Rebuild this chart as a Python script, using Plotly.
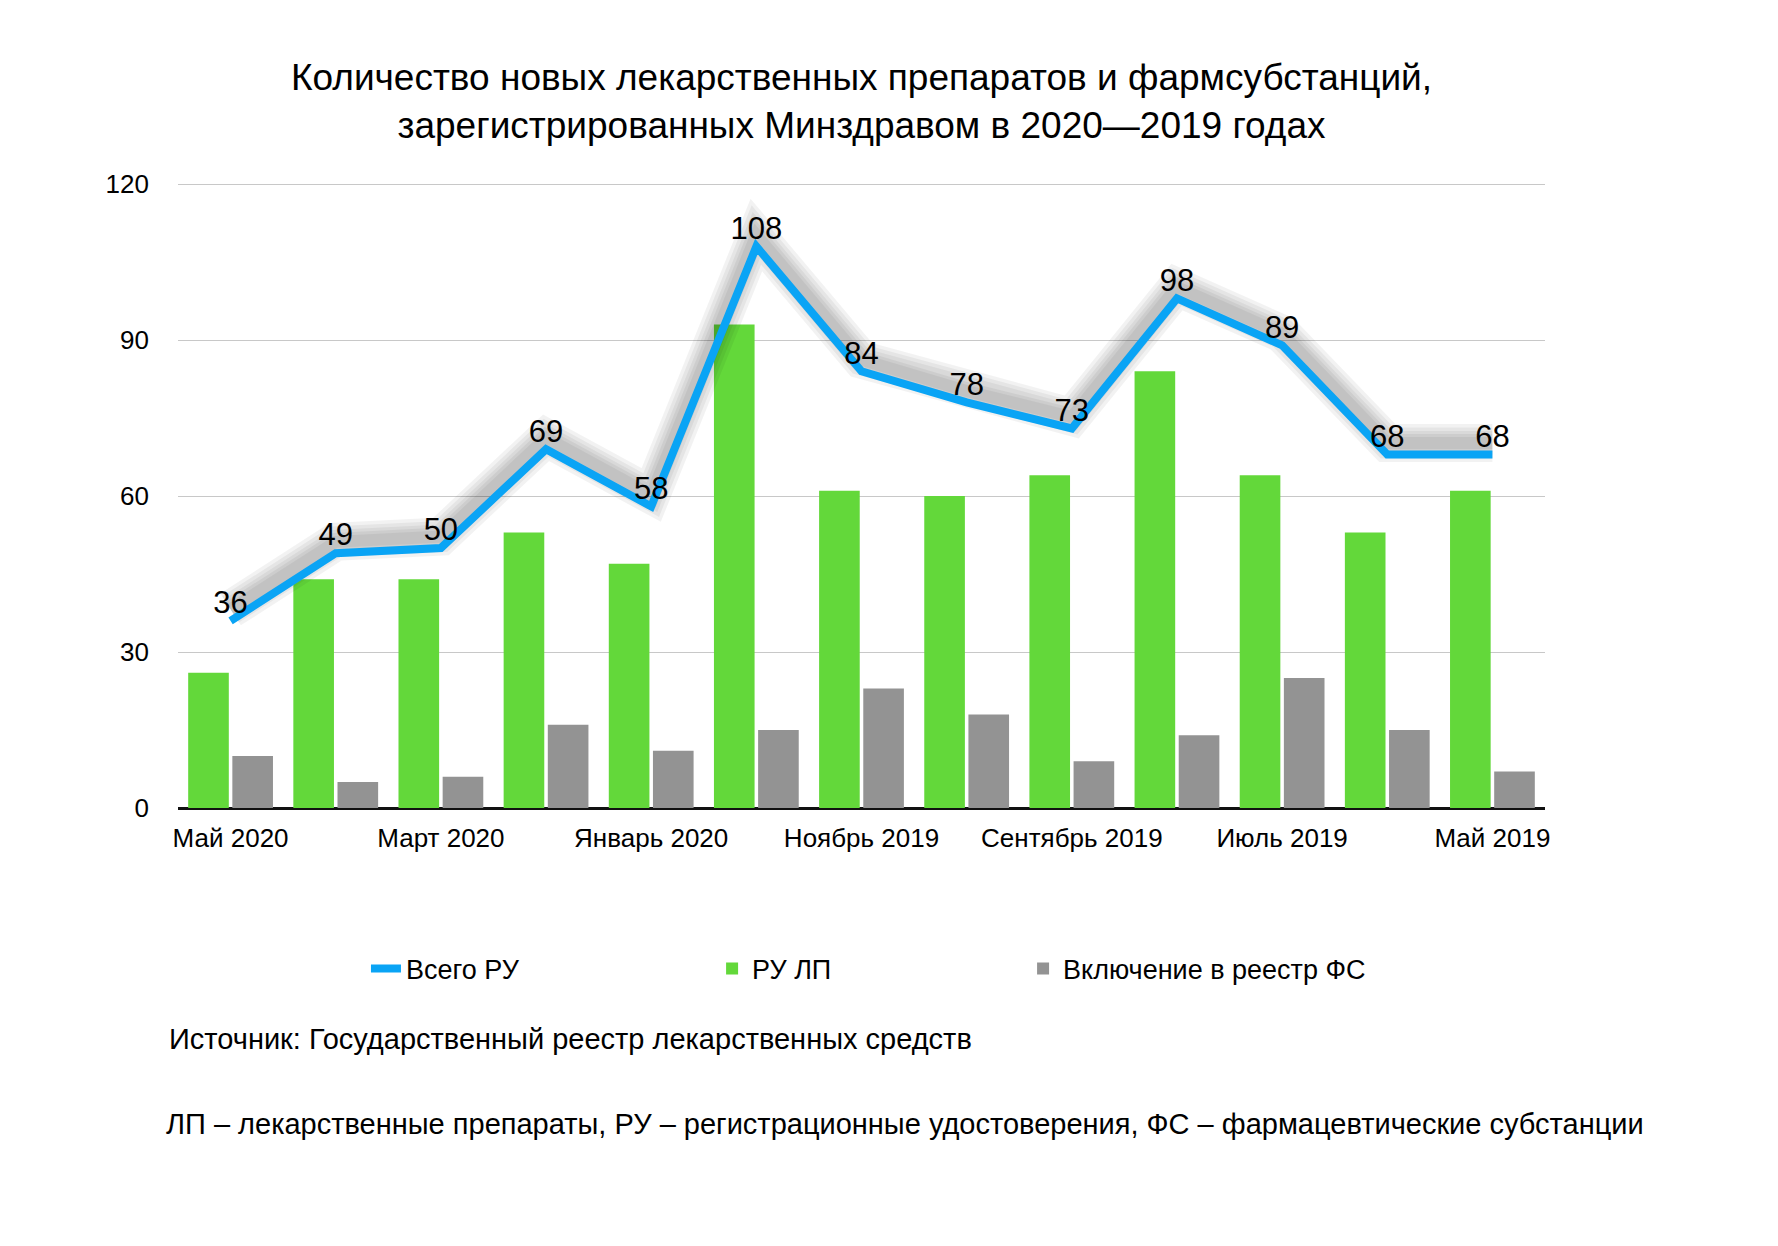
import plotly.graph_objects as go

# данные по месяцам (от мая 2020 к маю 2019)
months = ["Май 2020", "Апрель 2020", "Март 2020", "Февраль 2020", "Январь 2020",
          "Декабрь 2019", "Ноябрь 2019", "Октябрь 2019", "Сентябрь 2019",
          "Август 2019", "Июль 2019", "Июнь 2019", "Май 2019"]
total_ru = [36, 49, 50, 69, 58, 108, 84, 78, 73, 98, 89, 68, 68]
ru_lp = [26, 44, 44, 53, 47, 93, 61, 60, 64, 84, 64, 53, 61]
reestr_fs = [10, 5, 6, 16, 11, 15, 23, 18, 9, 14, 25, 15, 7]
shown_ticks = months[::2]
y_ticks = [0, 30, 60, 90, 120]

FONT = "Liberation Sans, Arial, Helvetica, sans-serif"
BLUE = "#0aa4f5"
GREEN = "#63d83a"
GRAY = "#939393"

fig = go.Figure()

fig.add_trace(go.Bar(x=months, y=ru_lp, name="РУ ЛП", marker_color=GREEN,
                     marker_line_width=0, legend="legend2"))
fig.add_trace(go.Bar(x=months, y=reestr_fs, name="Включение в реестр ФС",
                     marker_color=GRAY, marker_line_width=0, legend="legend3"))

# мягкая тень под линией (на смещённой оси)
for w in [38, 31, 24, 18, 12]:
    fig.add_trace(go.Scatter(x=months, y=total_ru, mode="lines", yaxis="y2",
                             line=dict(color="rgba(0,0,0,0.05)", width=w),
                             showlegend=False, hoverinfo="skip"))

fig.add_trace(go.Scatter(x=months, y=total_ru, name="Всего РУ", yaxis="y3",
                         mode="lines+text", text=total_ru,
                         textposition="top center",
                         textfont=dict(size=31, color="black", family=FONT),
                         line=dict(color=BLUE, width=8), legend="legend"))

leg = dict(orientation="h", xanchor="left", y=-0.257, yanchor="middle",
           font=dict(size=27, family=FONT), bgcolor="rgba(0,0,0,0)")

fig.update_layout(
    width=1778, height=1246,
    margin=dict(l=170, r=241, t=174, b=446),
    paper_bgcolor="white", plot_bgcolor="white",
    font=dict(family=FONT, color="black", size=26),
    barmode="group", bargap=0.16, bargroupgap=0.08,
    title=dict(text="Количество новых лекарственных препаратов и фармсубстанций,<br>"
                    "зарегистрированных Минздравом в 2020—2019 годах",
               x=0.5, xref="paper", xanchor="center",
               y=0.934, yref="container", yanchor="middle",
               font=dict(size=37, family=FONT, color="black")),
    xaxis=dict(type="category", range=[-0.5, 12.5], tickmode="array",
               tickvals=shown_ticks, ticktext=shown_ticks, showgrid=False,
               showline=False, ticks="", ticklabelstandoff=12,
               tickfont=dict(size=26)),
    yaxis=dict(range=[0, 120.4], tickvals=y_ticks, showgrid=True,
               gridcolor="#c8c8c8", gridwidth=1, zeroline=True,
               zerolinecolor="#111111", zerolinewidth=3,
               ticklabelstandoff=28, tickfont=dict(size=26)),
    yaxis2=dict(range=[-2.2, 118.2], overlaying="y", visible=False),
    yaxis3=dict(range=[0, 120.4], overlaying="y", visible=False),
    legend=dict(leg, x=0.1375),
    legend2=dict(leg, x=0.3907),
    legend3=dict(leg, x=0.6182),
    annotations=[
        dict(text="Источник: Государственный реестр лекарственных средств",
             x=-0.008, y=-0.369, xref="paper", yref="paper",
             xanchor="left", yanchor="middle", showarrow=False,
             font=dict(size=29)),
        dict(text="ЛП – лекарственные препараты, РУ – регистрационные удостоверения, "
                  "ФС – фармацевтические субстанции",
             x=-0.010, y=-0.505, xref="paper", yref="paper",
             xanchor="left", yanchor="middle", showarrow=False,
             font=dict(size=29)),
    ],
)

fig.write_html("out.html")
